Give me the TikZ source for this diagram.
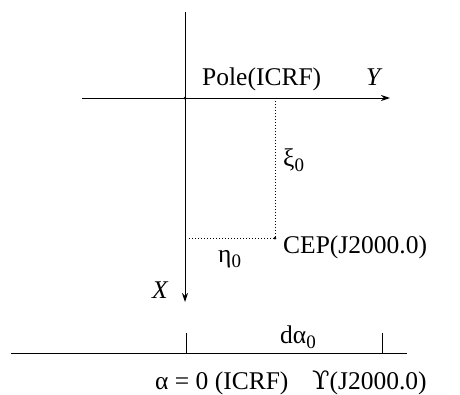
\documentclass[tikz,border=0pt]{standalone}
\usepackage{fontspec}
\setmainfont{Liberation Serif}
\newfontfamily\dvs{DejaVu Serif}
\usetikzlibrary{arrows.meta}
\newcommand{\lowsub}[1]{{\fontsize{19}{19}\selectfont\raisebox{-5pt}{#1}}}
\begin{document}
\begin{tikzpicture}[x=1pt,y=-1pt,
  axis/.style={line width=1pt},
  arr/.style={axis,-{Stealth[length=9pt,width=6pt]}},
  dots/.style={line width=1pt,dash pattern=on 1.2pt off 1.8pt},
  lbl/.style={inner sep=0pt,font=\fontsize{25.5}{28}\selectfont},
  pt/.style={circle,fill,inner sep=0pt,minimum size=3pt}]
\useasboundingbox (0,0) rectangle (460,394);
% coordinates
\coordinate (top) at (185,12);
\coordinate (xtip) at (185,302);
\coordinate (left) at (82,98);
\coordinate (ytip) at (390,98);
\coordinate (P) at (275,98);
\coordinate (Q) at (189,238);
\node[pt] (O) at (185,98) {};
\node[pt] (C) at (275,238) {};
% axes
\draw[arr] (top) -- (xtip);
\draw[arr] (left) -- (ytip);
\draw[dots] (P) -- (C.center);
\draw[dots] (Q) -- (C.center);
% labels
\node[lbl,anchor=base west] (pole) at (202,85) {Pole(ICRF)};
\node[lbl,anchor=base west] (ylab) at (366,85) {\textit{Y}};
\node[lbl,anchor=west] (xi) at (283,160) {ξ\lowsub{0}};
\node[lbl,anchor=base west] (cep) at (283,253) {CEP(J2000.0)};
\node[lbl,anchor=west] (eta) at (218,259) {η\lowsub{0}};
\node[lbl,anchor=base west] (xlab) at (152,298) {\textit{X}};
% bottom line
\coordinate (L1) at (11,353);
\coordinate (L2) at (407,353);
\coordinate (T1a) at (186,333);
\coordinate (T1b) at (186,353);
\coordinate (T2a) at (382,333);
\coordinate (T2b) at (382,353);
\draw[axis] (L1) -- (L2);
\draw[axis] (T1a) -- (T1b);
\draw[axis] (T2a) -- (T2b);
\node[lbl,anchor=base west] (da) at (280,343) {dα\lowsub{0}};
\node[lbl,anchor=base west] (a0) at (155,389) {α = 0 (ICRF)};
\node[lbl,anchor=base west] (gam) at (312,389) {{\dvs ϒ}(J2000.0)};
\end{tikzpicture}
\end{document}
